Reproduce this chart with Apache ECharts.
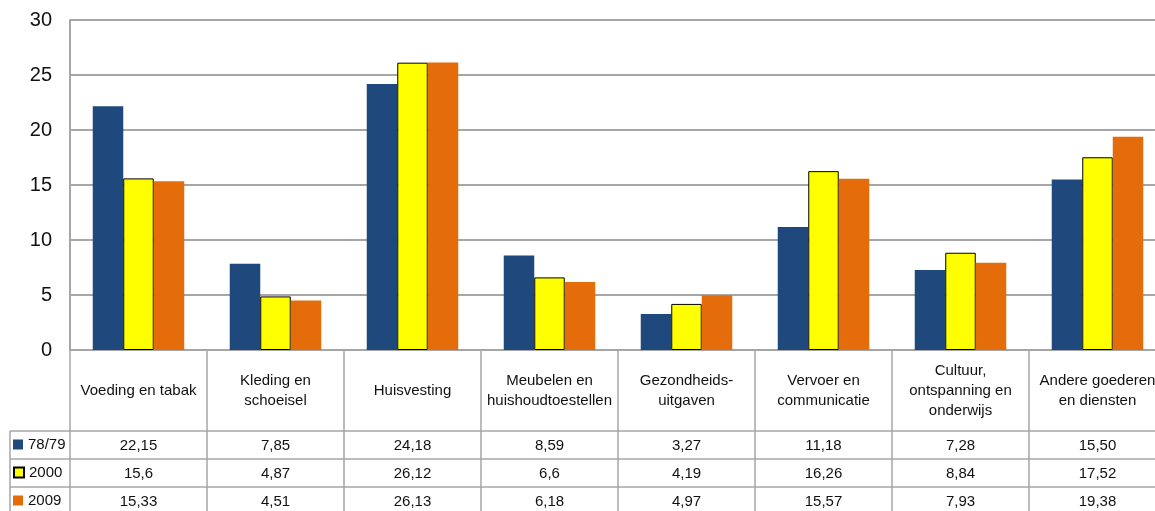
<!DOCTYPE html>
<html>
<head>
<meta charset="utf-8">
<script src="https://cdn.jsdelivr.net/npm/echarts@6/dist/echarts.min.js"></script>
<style>
html,body{margin:0;padding:0;background:#fff;overflow:hidden;width:1155px;height:511px;}
#chart{width:1166px;height:511px;}
</style>
</head>
<body>
<div id="chart"></div>
<script>
var categories = ['Voeding en tabak', 'Kleding en\nschoeisel', 'Huisvesting', 'Meubelen en\nhuishoudtoestellen', 'Gezondheids-\nuitgaven', 'Vervoer en\ncommunicatie', 'Cultuur,\nontspanning en\nonderwijs', 'Andere goederen\nen diensten'];
var seriesNames = ['78/79', '2000', '2009'];
var labels7879 = ['22,15', '7,85', '24,18', '8,59', '3,27', '11,18', '7,28', '15,50'];
var labels2000 = ['15,6', '4,87', '26,12', '6,6', '4,19', '16,26', '8,84', '17,52'];
var labels2009 = ['15,33', '4,51', '26,13', '6,18', '4,97', '15,57', '7,93', '19,38'];
var yTicks = [0, 5, 10, 15, 20, 25, 30];

function toNum(s) { return parseFloat(s.replace(',', '.')); }
var values7879 = labels7879.map(toNum);
var values2000 = labels2000.map(toNum);
var values2009 = labels2009.map(toNum);

var FONT = '"Liberation Sans", Arial, sans-serif';
var FS = 15;
var lineColor = '#a6a6a6';

function tableAxis(labels, offset) {
  return {
    type: 'category',
    data: labels,
    position: 'bottom',
    offset: offset,
    axisLine: { show: true, lineStyle: { color: lineColor, width: 1.5 } },
    axisTick: { show: false },
    axisLabel: { interval: 0, margin: 7, fontSize: FS, color: '#111', fontFamily: FONT, verticalAlign: 'top' },
    splitLine: { show: false }
  };
}

function legendRow(name, top) {
  return {
    orient: 'vertical',
    left: 13,
    top: top,
    padding: 0,
    itemWidth: 10,
    itemHeight: 10,
    itemGap: 4,
    icon: 'rect',
    selectedMode: false,
    textStyle: { fontSize: FS, color: '#111', fontFamily: FONT },
    data: [name]
  };
}

var chart = echarts.init(document.getElementById('chart'));
chart.setOption({
  animation: false,
  textStyle: { fontFamily: FONT },
  grid: { left: 70, right: 0, top: 20, bottom: 161, containLabel: false },
  legend: [
    legendRow(seriesNames[0], 437),
    legendRow(seriesNames[1], 465),
    legendRow(seriesNames[2], 493)
  ],
  xAxis: [
    {
      type: 'category',
      data: categories,
      axisLine: { show: true, lineStyle: { color: lineColor, width: 2 } },
      axisTick: { show: true, interval: 0, length: 170, alignWithLabel: false, lineStyle: { color: lineColor, width: 1.5 } },
      axisLabel: { interval: 0, margin: 41, fontSize: FS, lineHeight: 20, color: '#111', fontFamily: FONT, verticalAlign: 'middle', align: 'center' },
      splitLine: { show: false }
    },
    tableAxis(labels7879, 81),
    tableAxis(labels2000, 109),
    tableAxis(labels2009, 137)
  ],
  yAxis: {
    type: 'value',
    min: yTicks[0],
    max: yTicks[yTicks.length - 1],
    interval: 5,
    axisLine: { show: true, lineStyle: { color: lineColor, width: 2 } },
    axisTick: { show: false },
    axisLabel: { fontSize: 20, margin: 18, color: '#111', fontFamily: FONT },
    splitLine: { show: true, lineStyle: { color: lineColor, width: 2 } }
  },
  graphic: [
    { type: 'line', shape: { x1: 10, y1: 431, x2: 70, y2: 431 }, style: { stroke: lineColor, lineWidth: 1.5 } },
    { type: 'line', shape: { x1: 10, y1: 459, x2: 70, y2: 459 }, style: { stroke: lineColor, lineWidth: 1.5 } },
    { type: 'line', shape: { x1: 10, y1: 487, x2: 70, y2: 487 }, style: { stroke: lineColor, lineWidth: 1.5 } },
    { type: 'line', shape: { x1: 10, y1: 431, x2: 10, y2: 520 }, style: { stroke: lineColor, lineWidth: 1.5 } }
  ],
  series: [
    { name: seriesNames[0], type: 'bar', xAxisIndex: 0, data: values7879, barWidth: 30.5, barGap: '0%',
      itemStyle: { color: '#1f497d' } },
    { name: seriesNames[1], type: 'bar', xAxisIndex: 0, data: values2000, barWidth: 30.5, barGap: '0%',
      itemStyle: { color: '#ffff00', borderColor: '#000', borderWidth: 1 } },
    { name: seriesNames[2], type: 'bar', xAxisIndex: 0, data: values2009, barWidth: 30.5, barGap: '0%',
      itemStyle: { color: '#e46c0a' } }
  ]
});
</script>
</body>
</html>
